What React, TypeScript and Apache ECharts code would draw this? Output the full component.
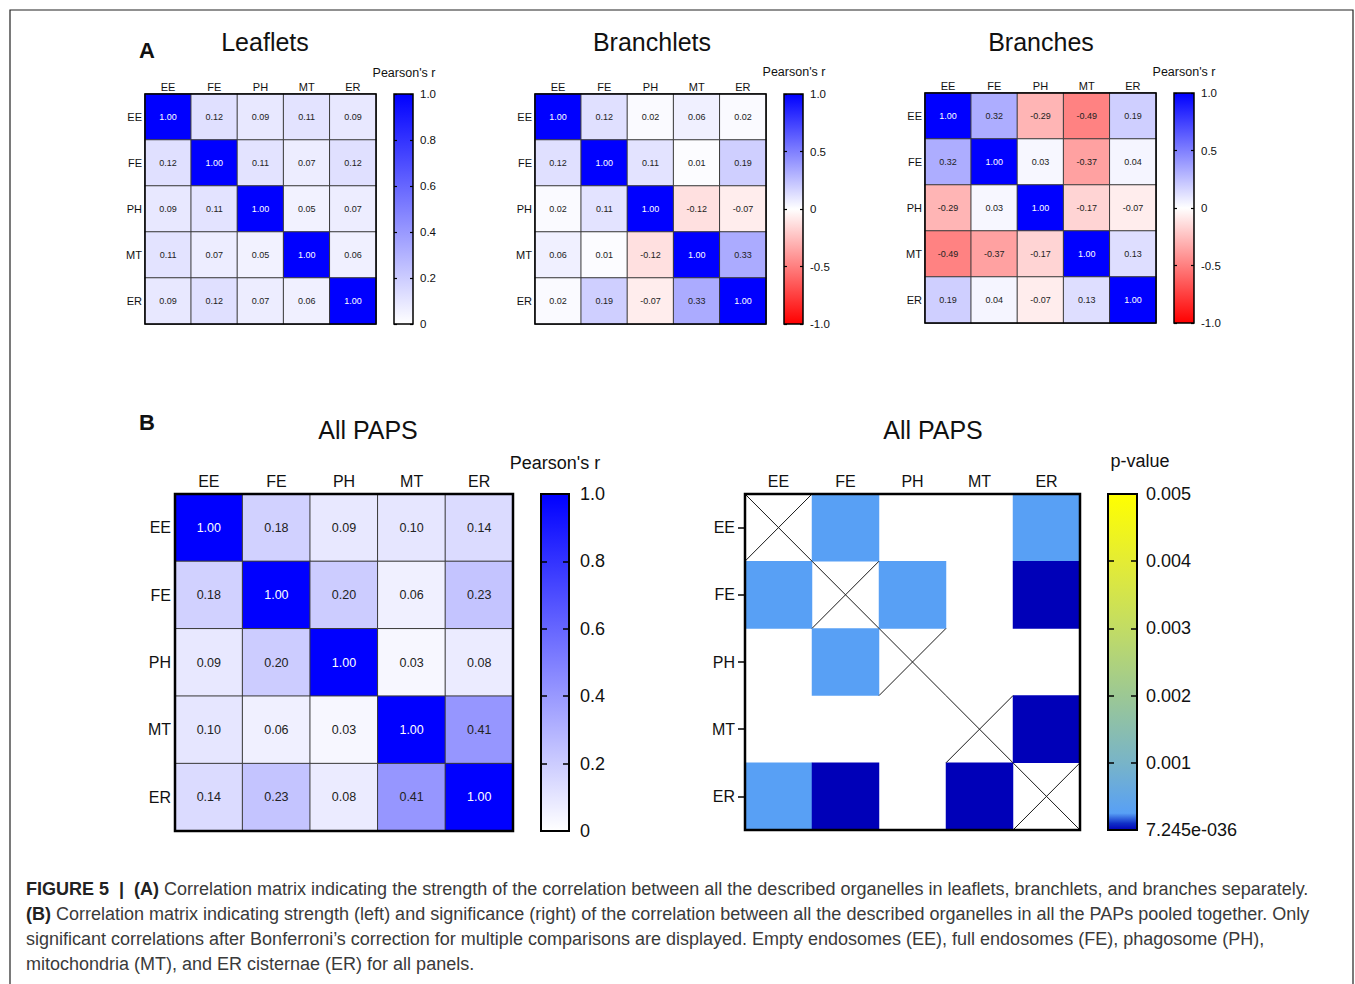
import React, { useEffect, useRef } from 'react';
import * as echarts from 'echarts';

// ---------- DATA ----------
const organelles = ['EE', 'FE', 'PH', 'MT', 'ER'];

const leafletsR = [
  [1.0, 0.12, 0.09, 0.11, 0.09],
  [0.12, 1.0, 0.11, 0.07, 0.12],
  [0.09, 0.11, 1.0, 0.05, 0.07],
  [0.11, 0.07, 0.05, 1.0, 0.06],
  [0.09, 0.12, 0.07, 0.06, 1.0],
];

const branchletsR = [
  [1.0, 0.12, 0.02, 0.06, 0.02],
  [0.12, 1.0, 0.11, 0.01, 0.19],
  [0.02, 0.11, 1.0, -0.12, -0.07],
  [0.06, 0.01, -0.12, 1.0, 0.33],
  [0.02, 0.19, -0.07, 0.33, 1.0],
];

const branchesR = [
  [1.0, 0.32, -0.29, -0.49, 0.19],
  [0.32, 1.0, 0.03, -0.37, 0.04],
  [-0.29, 0.03, 1.0, -0.17, -0.07],
  [-0.49, -0.37, -0.17, 1.0, 0.13],
  [0.19, 0.04, -0.07, 0.13, 1.0],
];

const allPapsR = [
  [1.0, 0.18, 0.09, 0.1, 0.14],
  [0.18, 1.0, 0.2, 0.06, 0.23],
  [0.09, 0.2, 1.0, 0.03, 0.08],
  [0.1, 0.06, 0.03, 1.0, 0.41],
  [0.14, 0.23, 0.08, 0.41, 1.0],
];

// significant p-values only (null = not significant / diagonal); estimated from colours
const allPapsP: (number | null)[][] = [
  [null, 0.00025, null, null, 0.00025],
  [0.00025, null, 0.00025, null, 1e-12],
  [null, 0.00025, null, null, null],
  [null, null, null, null, 1e-12],
  [0.00025, 1e-12, null, 1e-12, null],
];

const pMinLabel = '7.245e-036';

// ---------- STYLE ----------
const FONT = '"Liberation Sans", Arial, Helvetica, sans-serif';

type Stop = [number, string];
const seqStops: Stop[] = [[0, '#ffffff'], [1, '#0000ff']];
const divStops: Stop[] = [[0, '#ff0000'], [0.5, '#ffffff'], [1, '#0000ff']];
const pStops: Stop[] = [
  [0, '#0000b8'],
  [0.02, '#1030c8'],
  [0.05, '#58a0f5'],
  [0.2, '#78b4c8'],
  [0.4, '#9cc894'],
  [0.6, '#c2dc64'],
  [0.8, '#e4ec34'],
  [1, '#ffff00'],
];

function hexToRgb(h: string) {
  const n = parseInt(h.slice(1), 16);
  return [(n >> 16) & 255, (n >> 8) & 255, n & 255];
}
function colorAt(stops: Stop[], t: number) {
  for (let i = 0; i < stops.length - 1; i++) {
    const [a, ca] = stops[i];
    const [b, cb] = stops[i + 1];
    if (t >= a && t <= b) {
      const f = (t - a) / (b - a || 1);
      const A = hexToRgb(ca);
      const B = hexToRgb(cb);
      const c = A.map((v, k) => Math.round(v + (B[k] - v) * f));
      return `rgb(${c[0]},${c[1]},${c[2]})`;
    }
  }
  return stops[stops.length - 1][1];
}
function sampleStops(stops: Stop[], n: number) {
  const out: string[] = [];
  for (let i = 0; i <= n; i++) out.push(colorAt(stops, i / n));
  return out;
}

export default function App() {
  const ref = useRef<HTMLDivElement>(null);

  useEffect(() => {
    if (!ref.current) return;
    const chart = echarts.init(ref.current, undefined, { renderer: 'svg' });

    const grids: any[] = [];
    const xAxes: any[] = [];
    const yAxes: any[] = [];
    const series: any[] = [];
    const visualMaps: any[] = [];

    function addMatrix(
      matrix: (number | null)[][],
      box: number[],
      o: {
        min: number; max: number; stops: Stop[]; big: boolean; labels: boolean;
        rowTicks?: boolean; cellBorder: boolean; diagX?: boolean; samples?: number;
      }
    ) {
      const gi = grids.length;
      grids.push({
        left: box[0], top: box[1], width: box[2], height: box[3],
        show: true, z: 5, borderColor: '#000', borderWidth: o.big ? 2.5 : 1.5,
        backgroundColor: 'rgba(0,0,0,0)', containLabel: false, outerBoundsMode: 'none',
      });
      const xi = xAxes.length;
      xAxes.push({
        gridIndex: gi, type: 'category', data: organelles, position: 'top',
        axisLine: { show: false }, axisTick: { show: false },
        splitLine: { show: false },
        axisLabel: { fontSize: o.big ? 16 : 11, color: '#111', fontFamily: FONT, margin: o.big ? 5 : 2 },
      });
      const yi = yAxes.length;
      yAxes.push({
        gridIndex: gi, type: 'category', data: organelles, inverse: true,
        axisLine: { show: false },
        axisTick: o.rowTicks
          ? { show: true, alignWithLabel: true, length: 7, lineStyle: { color: '#000', width: 1.5 } }
          : { show: false },
        splitLine: { show: false },
        axisLabel: {
          fontSize: o.big ? 16 : 11, color: '#111', fontFamily: FONT,
          margin: o.rowTicks ? 10 : o.big ? 4 : 3,
        },
      });
      const data: any[] = [];
      matrix.forEach((row, i) =>
        row.forEach((v, j) => {
          if (v === null) return;
          data.push({
            value: [j, i, v],
            label: { color: v > 0.6 ? '#ffffff' : '#222222' },
          });
        })
      );
      const si = series.length;
      series.push({
        type: 'heatmap', xAxisIndex: xi, yAxisIndex: yi, data, z: 2,
        emphasis: { disabled: true },
        itemStyle: o.cellBorder ? { borderColor: '#3a3a3a', borderWidth: 1 } : { borderWidth: 0 },
        label: {
          show: o.labels,
          fontSize: o.big ? 12.5 : 9,
          fontFamily: FONT,
          formatter: (p: any) => Number(p.value[2]).toFixed(2),
        },
      });
      visualMaps.push({
        show: false, seriesIndex: si, dimension: 2, min: o.min, max: o.max,
        inRange: { color: o.samples ? sampleStops(o.stops, o.samples) : o.stops.map((s) => s[1]) },
      });
      if (o.diagX) {
        series.push({
          type: 'custom', xAxisIndex: xi, yAxisIndex: yi, z: 3, silent: true,
          data: organelles.map((_, i) => [i, i]),
          renderItem: (_p: any, api: any) => {
            const c = api.coord([api.value(0), api.value(1)]);
            const s = api.size([1, 1]);
            const x0 = c[0] - s[0] / 2;
            const y0 = c[1] - s[1] / 2;
            const st = { stroke: '#1a1a1a', lineWidth: 1 };
            return {
              type: 'group',
              children: [
                { type: 'line', shape: { x1: x0, y1: y0, x2: x0 + s[0], y2: y0 + s[1] }, style: st },
                { type: 'line', shape: { x1: x0 + s[0], y1: y0, x2: x0, y2: y0 + s[1] }, style: st },
              ],
            };
          },
        });
      }
    }

    function addColorbar(
      box: number[],
      o: {
        min: number; max: number; interval: number; stops: Stop[]; big: boolean;
        fmt: (v: number) => string; margin: number; crossTicks: boolean;
      }
    ) {
      const gi = grids.length;
      grids.push({ left: box[0], top: box[1], width: box[2], height: box[3], show: false, containLabel: false, outerBoundsMode: 'none' });
      const xi = xAxes.length;
      xAxes.push({ gridIndex: gi, type: 'value', min: 0, max: 1, show: false });
      const yi = yAxes.length;
      const tickStyle = { color: '#000', width: o.big ? 1.5 : 1.2 };
      yAxes.push({
        gridIndex: gi, type: 'value', min: o.min, max: o.max, interval: o.interval, position: 'right',
        axisLine: { show: false }, splitLine: { show: false },
        axisTick: o.crossTicks
          ? { show: true, inside: false, length: 3, lineStyle: tickStyle }
          : { show: false },
        axisLabel: {
          show: true, fontSize: o.big ? 18 : 11.5, color: '#111', fontFamily: FONT,
          margin: o.margin, formatter: o.fmt,
        },
        z: 6,
      });
      yAxes.push({
        gridIndex: gi, type: 'value', min: o.min, max: o.max, interval: o.interval, position: 'right',
        axisLine: { show: false }, splitLine: { show: false },
        axisTick: { show: true, inside: true, length: o.big ? 6 : 3, lineStyle: tickStyle },
        axisLabel: { show: false }, z: 6,
      });
      if (o.big) {
        yAxes.push({
          gridIndex: gi, type: 'value', min: o.min, max: o.max, interval: o.interval, position: 'left',
          axisLine: { show: false }, splitLine: { show: false },
          axisTick: { show: true, inside: true, length: 6, lineStyle: tickStyle },
          axisLabel: { show: false }, z: 6,
        });
      }
      const colorStops = o.stops.map(([off, color]) => ({ offset: off, color }));
      series.push({
        type: 'custom', xAxisIndex: xi, yAxisIndex: yi, z: 2, silent: true,
        data: [[0, o.min, 1, o.max]],
        renderItem: (_p: any, api: any) => {
          const p0 = api.coord([api.value(0), api.value(1)]);
          const p1 = api.coord([api.value(2), api.value(3)]);
          return {
            type: 'rect',
            shape: { x: p0[0], y: p1[1], width: p1[0] - p0[0], height: p0[1] - p1[1] },
            style: {
              fill: { type: 'linear', x: 0, y: 1, x2: 0, y2: 0, colorStops },
              stroke: '#000', lineWidth: o.big ? 2 : 1.5,
            },
          };
        },
      });
    }

    const rFmt = (v: number) => (Math.abs(v) < 1e-9 ? '0' : v.toFixed(1));
    const pFmt = (v: number) => (Math.abs(v) < 1e-12 ? pMinLabel : v.toFixed(3));

    // Panel A
    addMatrix(leafletsR, [145, 94, 231, 230], { min: 0, max: 1, stops: seqStops, big: false, labels: true, cellBorder: true });
    addColorbar([394, 94, 19, 230], { min: 0, max: 1, interval: 0.2, stops: seqStops, big: false, fmt: rFmt, margin: 7, crossTicks: true });
    addMatrix(branchletsR, [535, 94, 231, 230], { min: -1, max: 1, stops: divStops, big: false, labels: true, cellBorder: true });
    addColorbar([784, 94, 19, 230], { min: -1, max: 1, interval: 0.5, stops: divStops, big: false, fmt: rFmt, margin: 7, crossTicks: true });
    addMatrix(branchesR, [925, 93, 231, 230], { min: -1, max: 1, stops: divStops, big: false, labels: true, cellBorder: true });
    addColorbar([1174, 93, 20, 230], { min: -1, max: 1, interval: 0.5, stops: divStops, big: false, fmt: rFmt, margin: 7, crossTicks: true });

    // Panel B
    addMatrix(allPapsR, [175, 494, 338, 337], { min: 0, max: 1, stops: seqStops, big: true, labels: true, cellBorder: true });
    addColorbar([541, 494, 28, 337], { min: 0, max: 1, interval: 0.2, stops: seqStops, big: true, fmt: rFmt, margin: 11, crossTicks: false });
    addMatrix(allPapsP, [745, 494, 335, 336], {
      min: 0, max: 0.005, stops: pStops, big: true, labels: false, cellBorder: false,
      rowTicks: true, diagX: true, samples: 200,
    });
    addColorbar([1108, 494, 29, 336], { min: 0, max: 0.005, interval: 0.001, stops: pStops, big: true, fmt: pFmt, margin: 9, crossTicks: false });

    const txt = (x: number, y: number, text: string, size: number, align = 'center', weight = 'normal') => ({
      type: 'text', x, y, z: 10,
      style: {
        text, fontSize: size, fontFamily: FONT, fontWeight: weight, fill: '#111',
        textAlign: align, textVerticalAlign: 'middle',
      },
    });

    const capRich = {
      b: { fontSize: 18, fontFamily: FONT, fontWeight: 'bold', fill: '#222' },
    };
    const cap = (y: number, text: string) => ({
      type: 'text', x: 26, y, z: 10,
      style: {
        text, fontSize: 18, fontFamily: FONT, fill: '#3a3a3a',
        textAlign: 'left', textVerticalAlign: 'middle', rich: capRich,
      },
    });

    const graphic = [
      { type: 'rect', shape: { x: 10, y: 10, width: 1343, height: 1000 }, style: { fill: 'none', stroke: '#222', lineWidth: 1.2 }, z: 0 },
      txt(147, 50, 'A', 22, 'center', 'bold'),
      txt(147, 422, 'B', 22, 'center', 'bold'),
      txt(265, 42, 'Leaflets', 25),
      txt(652, 42, 'Branchlets', 25),
      txt(1041, 42, 'Branches', 25),
      txt(368, 430, 'All PAPS', 25),
      txt(933, 430, 'All PAPS', 25),
      txt(404, 73, "Pearson's r", 12.5),
      txt(794, 72, "Pearson's r", 12.5),
      txt(1184, 72, "Pearson's r", 12.5),
      txt(555, 463, "Pearson's r", 18),
      txt(1140, 461, 'p-value', 18),
      cap(889, '{b|FIGURE 5  |  (A)} Correlation matrix indicating the strength of the correlation between all the described organelles in leaflets, branchlets, and branches separately.'),
      cap(914, '{b|(B)} Correlation matrix indicating strength (left) and significance (right) of the correlation between all the described organelles in all the PAPs pooled together. Only'),
      cap(939, 'significant correlations after Bonferroni\u2019s correction for multiple comparisons are displayed. Empty endosomes (EE), full endosomes (FE), phagosome (PH),'),
      cap(964, 'mitochondria (MT), and ER cisternae (ER) for all panels.'),
    ];

    chart.setOption({
      animation: false,
      backgroundColor: '#ffffff',
      textStyle: { fontFamily: FONT },
      grid: grids,
      xAxis: xAxes,
      yAxis: yAxes,
      visualMap: visualMaps,
      series,
      graphic,
    });

    return () => chart.dispose();
  }, []);

  return (
    <div
      ref={ref}
      style={{ position: 'fixed', left: 0, top: 0, width: 1355, height: 984, background: '#fff' }}
    />
  );
}
